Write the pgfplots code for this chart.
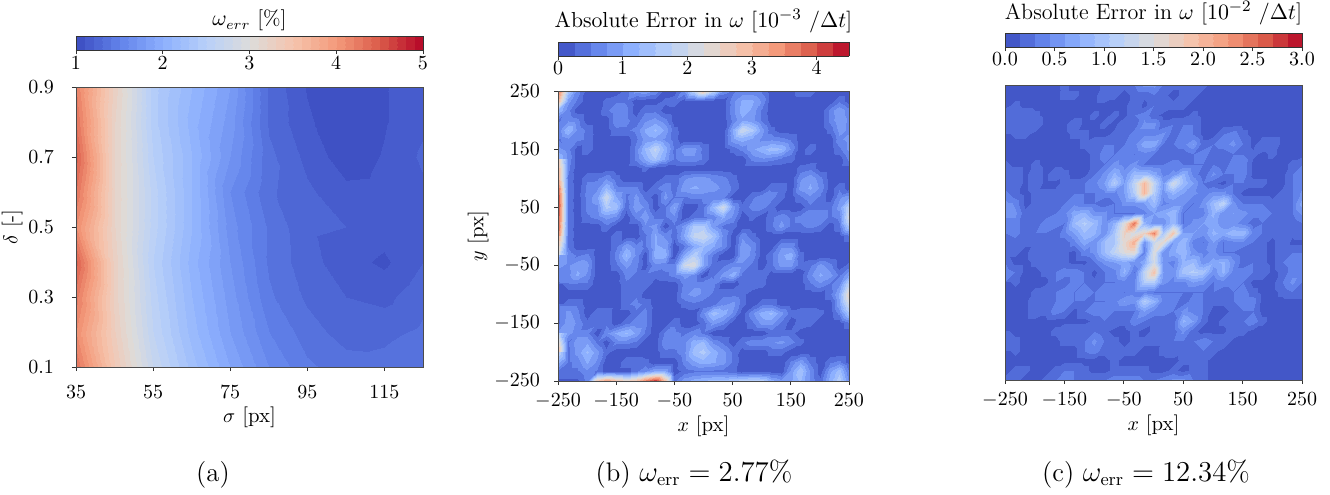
\documentclass[border=0pt]{standalone}
\usepackage{pgfplots}
\pgfplotsset{compat=1.18}
\pgfplotsset{
  colormap={coolwarm}{rgb255=(59,76,192) rgb255=(98,130,234) rgb255=(141,176,254) rgb255=(184,208,249) rgb255=(221,220,219) rgb255=(245,196,173) rgb255=(244,154,123) rgb255=(218,90,73) rgb255=(180,4,38)},
  colormap={cwa}{colors of colormap=(12.5,37.5,...,987.5 of coolwarm)},
  colormap={cwb}{colors of colormap=(27.8,83.3,...,972.2 of coolwarm)},
  colormap={cwc}{colors of colormap=(25,75,...,975 of coolwarm)},
  every axis/.append style={
    scale only axis, anchor=south west,
    tick align=outside, major tick length=2pt, axis line style={black!70,line width=0.4pt},
    tick style={black!80,line width=0.35pt}, xtick pos=bottom, ytick pos=left,
    axis on top, colormap access=piecewise constant,
    tick label style={font=\fontsize{10.3}{12}\selectfont},
    label style={font=\fontsize{10.4}{12}\selectfont},
    xticklabel style={yshift=-1pt}, yticklabel style={xshift=-3.5pt},
    xlabel shift=-3pt,
  },
  cb/.style n args={3}{
    colorbar horizontal,
    colorbar style={
      at={(0,#1)}, anchor=south west, height=7pt,
      xtick pos=bottom, xticklabel pos=lower, major tick length=2pt,
      axis line style={black!80,line width=0.4pt},
      title style={font=\fontsize{#2}{13}\selectfont,yshift=#3},
      xticklabel style={yshift=3.5pt}, xtick align=outside,
    },
  },
}
\begin{document}
\begin{tikzpicture}
\path[use as bounding box] (0,0) rectangle (665pt,247pt);
\begin{axis}[
  name=a, at={(38pt,63.5pt)}, width=173.5pt, height=140pt,
  xmin=35, xmax=125, ymin=0.1, ymax=0.9,
  xtick={35,55,75,95,115}, ytick={0.1,0.3,0.5,0.7,0.9},
  xticklabel style={yshift=-3pt},
  yticklabel style={xshift=-2pt,/pgf/number format/fixed,/pgf/number format/fixed zerofill,/pgf/number format/precision=1},
  xlabel={$\sigma$ [px]}, ylabel={$\delta$ [-]}, ylabel shift=-4pt,
  colormap name=cwa, point meta min=1, point meta max=5,
  cb={1.132}{10.5}{-7pt},
  colorbar style={width=173.5pt, xtick={1,2,3,4,5}, title={$\omega_{err}$ [\%]}},
]
\addplot[surf,shader=interp,mesh/cols=10,mesh/ordering=x varies,point meta=\thisrowno{0}]
 table[header=false,row sep=\\,x expr={35+10*mod(\coordindex,10)},y expr={0.1+0.1*floor(\coordindex/10)}]{
 4.3\\ 3.4\\ 2.7\\ 2.25\\ 1.9\\ 1.6\\ 1.42\\ 1.35\\ 1.34\\ 1.4\\
 4.1\\ 3.3\\ 2.6\\ 2.15\\ 1.8\\ 1.5\\ 1.35\\ 1.25\\ 1.27\\ 1.32\\
 4.25\\ 3.25\\ 2.55\\ 2.1\\ 1.75\\ 1.42\\ 1.28\\ 1.2\\ 1.17\\ 1.27\\
 4.45\\ 3.25\\ 2.5\\ 2.05\\ 1.7\\ 1.38\\ 1.24\\ 1.14\\ 1.08\\ 1.2\\
 4.1\\ 3.2\\ 2.55\\ 2.1\\ 1.65\\ 1.38\\ 1.22\\ 1.2\\ 1.15\\ 1.12\\
 4.3\\ 3.2\\ 2.55\\ 2.1\\ 1.6\\ 1.32\\ 1.22\\ 1.13\\ 1.14\\ 1.18\\
 4.45\\ 3.2\\ 2.5\\ 2.1\\ 1.7\\ 1.33\\ 1.17\\ 1.04\\ 1.11\\ 1.22\\
 4.3\\ 3.2\\ 2.45\\ 2.05\\ 1.75\\ 1.28\\ 1.12\\ 1.01\\ 1.09\\ 1.18\\
 4.2\\ 3.25\\ 2.45\\ 2.1\\ 1.8\\ 1.28\\ 1.09\\ 1.01\\ 1.09\\ 1.17\\
};
\end{axis}
\begin{axis}[
  name=b, at={(279pt,56.5pt)}, width=145.5pt, height=145pt,
  xmin=-250, xmax=250, ymin=-250, ymax=250,
  xtick={-250,-150,-50,50,150,250}, ytick={-250,-150,-50,50,150,250},
  xlabel={$x$ [px]}, ylabel={$y$ [px]}, ylabel shift=-4pt,
  colormap name=cwb, point meta min=0, point meta max=4.5,
  cb={1.1207}{10.85}{-5pt},
  colorbar style={width=145.5pt, xtick={0,1,2,3,4}, title={Absolute Error in $\omega$ [$10^{-3}$ $/\Delta t$]}},
]
\addplot[surf,shader=interp,mesh/cols=31,mesh/ordering=x varies,point meta=\thisrowno{0}]
 table[header=false,row sep=\\,x expr={-250+16.6667*mod(\coordindex,31)},y expr={250-16.6667*floor(\coordindex/31)}]{
 3.8\\ 1.5\\ .7\\ .1\\ .1\\ .1\\ .1\\ .35\\ .85\\ .95\\ .7\\ .1\\ .1\\ .7\\ 1.85\\ 2.8\\ 1.85\\ .7\\ .45\\ .6\\ .6\\ .45\\ .1\\ .1\\ .1\\ .45\\ .45\\ .1\\ .1\\ .1\\ .1\\
 3.0\\ .85\\ .45\\ .1\\ .1\\ .35\\ .45\\ .45\\ .1\\ .1\\ .1\\ .35\\ .45\\ .1\\ .1\\ .1\\ .1\\ .1\\ .7\\ 1.05\\ 1.05\\ .7\\ .1\\ .1\\ .1\\ .1\\ .1\\ .1\\ .1\\ .45\\ .1\\
 1.3\\ .6\\ .1\\ .1\\ .1\\ .45\\ .7\\ .6\\ .1\\ .45\\ .45\\ .1\\ .1\\ .1\\ .1\\ .1\\ .1\\ .1\\ .7\\ 1.15\\ .95\\ .45\\ .1\\ .1\\ .1\\ .1\\ .1\\ .1\\ .6\\ .95\\ .6\\
 .45\\ .7\\ .6\\ .1\\ .1\\ .1\\ .7\\ .6\\ .35\\ .7\\ .85\\ .6\\ .1\\ .1\\ .1\\ .1\\ .1\\ .1\\ .6\\ .95\\ .85\\ .45\\ .1\\ .1\\ .1\\ .1\\ .1\\ .1\\ .6\\ .95\\ .7\\
 .6\\ 1.3\\ .7\\ .45\\ .1\\ .1\\ .45\\ .45\\ .6\\ 1.05\\ 1.3\\ .95\\ .35\\ .1\\ .1\\ .1\\ .1\\ .1\\ 1.05\\ 2.0\\ 1.6\\ .85\\ .35\\ .1\\ .1\\ .1\\ .1\\ .1\\ .35\\ .85\\ .7\\
 .45\\ .7\\ .6\\ .45\\ .1\\ .1\\ .1\\ .1\\ .45\\ .85\\ .95\\ .7\\ .35\\ .1\\ .1\\ .1\\ .1\\ .1\\ .95\\ 1.15\\ .95\\ .7\\ .7\\ .6\\ .45\\ .1\\ .1\\ .1\\ .1\\ .7\\ .85\\
 .45\\ .6\\ .1\\ .45\\ .1\\ .1\\ .1\\ .1\\ .6\\ 1.3\\ 1.85\\ 1.15\\ .45\\ .85\\ .85\\ .45\\ .1\\ .1\\ .35\\ .6\\ .95\\ 1.15\\ 1.4\\ 1.3\\ .7\\ .1\\ .45\\ .1\\ .1\\ .45\\ .85\\
 1.3\\ .7\\ .1\\ .1\\ .1\\ .1\\ .1\\ .1\\ .6\\ 1.05\\ 1.5\\ .95\\ .45\\ .7\\ .7\\ .45\\ .1\\ .1\\ .1\\ .1\\ .6\\ .7\\ .6\\ .45\\ .35\\ .1\\ .1\\ .1\\ .1\\ .1\\ .6\\
 2.8\\ .6\\ .1\\ .1\\ .1\\ .1\\ .1\\ .1\\ .1\\ .35\\ .1\\ .1\\ .1\\ .1\\ .1\\ .1\\ .1\\ .1\\ .1\\ .1\\ .1\\ .1\\ .1\\ .1\\ .1\\ .35\\ .45\\ .1\\ .1\\ .1\\ .1\\
 3.2\\ .45\\ .1\\ .45\\ .45\\ .7\\ .35\\ .1\\ .1\\ .1\\ .1\\ .35\\ .35\\ .7\\ .85\\ .85\\ .7\\ .6\\ .35\\ .1\\ .1\\ .1\\ .1\\ .1\\ .1\\ .7\\ .95\\ .6\\ .1\\ .1\\ .1\\
 3.7\\ .45\\ .1\\ .6\\ .7\\ 1.3\\ .6\\ .6\\ .6\\ .1\\ .45\\ .7\\ .35\\ .95\\ 1.05\\ .95\\ .85\\ .7\\ .45\\ .1\\ .1\\ .1\\ .45\\ .45\\ .1\\ .85\\ 1.05\\ .7\\ .1\\ .45\\ .1\\
 4.0\\ .45\\ .1\\ .6\\ .95\\ 2.0\\ 1.05\\ .45\\ .85\\ .45\\ .1\\ .85\\ .45\\ .45\\ .6\\ .6\\ .6\\ .6\\ .1\\ .1\\ .45\\ .7\\ .6\\ .35\\ .1\\ .45\\ .7\\ .45\\ .1\\ .7\\ .95\\
 4.3\\ .45\\ .1\\ .6\\ .7\\ 1.6\\ 1.4\\ .35\\ .95\\ .7\\ .1\\ .45\\ 1.05\\ .1\\ .1\\ .45\\ 1.3\\ 2.1\\ .85\\ .35\\ .6\\ .6\\ .35\\ .1\\ .1\\ .1\\ .45\\ .45\\ .45\\ .85\\ 1.9\\
 4.2\\ .45\\ .1\\ .45\\ .6\\ .85\\ .7\\ .1\\ .6\\ .95\\ .45\\ .45\\ .7\\ .1\\ .45\\ .45\\ .6\\ 1.05\\ .7\\ .1\\ .35\\ .1\\ .45\\ .7\\ .45\\ .6\\ .7\\ .7\\ .45\\ .6\\ 2.2\\
 4.0\\ .45\\ .1\\ .1\\ .1\\ .45\\ .1\\ .1\\ .1\\ .7\\ .85\\ .1\\ .45\\ .85\\ 1.6\\ 1.6\\ .85\\ .45\\ .35\\ .1\\ .1\\ .1\\ .45\\ .85\\ .45\\ .45\\ .6\\ .45\\ .1\\ .45\\ 1.6\\
 3.7\\ .45\\ .1\\ .1\\ .1\\ .1\\ .45\\ .1\\ .1\\ .45\\ 1.05\\ .7\\ .35\\ 1.05\\ 1.85\\ 2.0\\ 1.5\\ .7\\ .1\\ .7\\ .35\\ .1\\ .1\\ .1\\ .1\\ .1\\ .1\\ .1\\ .1\\ .1\\ .45\\
 3.2\\ .45\\ .1\\ .1\\ .1\\ .1\\ .45\\ .95\\ .6\\ .45\\ 1.05\\ .95\\ .1\\ .45\\ 1.05\\ 1.3\\ 1.05\\ .7\\ .1\\ .95\\ .7\\ .1\\ .1\\ .7\\ .7\\ .1\\ .1\\ .1\\ .1\\ .1\\ .1\\
 2.2\\ .7\\ .45\\ .6\\ .1\\ .1\\ .6\\ 1.3\\ .7\\ .1\\ 1.15\\ 1.15\\ .1\\ 1.05\\ 1.7\\ 1.05\\ .45\\ .1\\ .1\\ .95\\ .7\\ .1\\ .45\\ .95\\ 1.15\\ .35\\ .1\\ .1\\ .1\\ .1\\ .1\\
 1.05\\ .7\\ .95\\ .85\\ .1\\ .1\\ .45\\ .85\\ .6\\ .1\\ .7\\ .6\\ .6\\ 2.0\\ 2.2\\ 1.05\\ .35\\ .45\\ .7\\ .7\\ .45\\ .1\\ .45\\ .85\\ .85\\ .35\\ .45\\ .85\\ .6\\ .1\\ .35\\
 .6\\ .7\\ 1.05\\ .7\\ .1\\ .1\\ .1\\ .6\\ .45\\ .45\\ .35\\ .45\\ .6\\ .85\\ .7\\ .1\\ .45\\ .85\\ 1.15\\ .45\\ .45\\ .45\\ .1\\ .1\\ .1\\ .1\\ .7\\ 1.05\\ .85\\ .45\\ 1.05\\
 .45\\ .45\\ .45\\ .45\\ .1\\ .1\\ .1\\ .45\\ .45\\ .45\\ .1\\ .1\\ .1\\ .6\\ .7\\ .7\\ .6\\ .1\\ .1\\ .35\\ .45\\ .35\\ .1\\ .1\\ .1\\ .1\\ .45\\ .7\\ .45\\ .7\\ 1.9\\
 .1\\ .1\\ .1\\ .1\\ .1\\ .1\\ .1\\ .45\\ .45\\ .1\\ .1\\ .1\\ .1\\ .7\\ .85\\ .7\\ .45\\ .45\\ .45\\ .35\\ .1\\ .1\\ .1\\ .1\\ .1\\ .1\\ .1\\ .1\\ .45\\ 1.05\\ 2.6\\
 .1\\ .45\\ .45\\ .1\\ .1\\ .1\\ .1\\ .45\\ .6\\ .45\\ .1\\ .1\\ .1\\ .35\\ .45\\ .35\\ .45\\ .7\\ .85\\ .35\\ .1\\ .45\\ .45\\ .1\\ .1\\ .1\\ .1\\ .1\\ .1\\ .95\\ 2.1\\
 .45\\ .85\\ .6\\ .1\\ .45\\ .45\\ .1\\ .1\\ .45\\ .6\\ .1\\ .1\\ .1\\ .1\\ .1\\ .7\\ 1.4\\ 1.15\\ .7\\ .1\\ .7\\ 1.15\\ 1.3\\ .85\\ .35\\ .45\\ .45\\ .35\\ .1\\ .6\\ 1.5\\
 .45\\ .95\\ .7\\ .35\\ .45\\ .45\\ .1\\ .45\\ .6\\ .6\\ .1\\ .1\\ .45\\ .1\\ .1\\ .35\\ .85\\ .6\\ .1\\ .1\\ .45\\ .85\\ .85\\ .45\\ .1\\ .45\\ .35\\ .1\\ .1\\ .1\\ .45\\
 .85\\ .85\\ .6\\ .6\\ .1\\ .7\\ 1.05\\ 1.3\\ .95\\ .45\\ .1\\ .6\\ .6\\ .45\\ .7\\ .45\\ .1\\ .1\\ .1\\ .1\\ .1\\ .1\\ .35\\ .35\\ .35\\ .1\\ .1\\ .1\\ .1\\ .1\\ .1\\
 1.85\\ .45\\ .95\\ .95\\ .45\\ .1\\ .6\\ .6\\ .45\\ .1\\ .1\\ .7\\ .6\\ .7\\ 1.15\\ 1.3\\ .7\\ .45\\ .1\\ .45\\ .7\\ .7\\ .7\\ .85\\ .6\\ .35\\ .1\\ .1\\ .1\\ .1\\ .1\\
 3.0\\ .45\\ .85\\ 1.3\\ .85\\ .35\\ .1\\ .1\\ .1\\ .1\\ .1\\ .45\\ .45\\ .7\\ 1.4\\ 1.6\\ 1.15\\ .85\\ .45\\ .1\\ .1\\ .1\\ .35\\ .35\\ .1\\ .1\\ .1\\ .1\\ .1\\ .1\\ .1\\
 1.85\\ .45\\ .6\\ 1.05\\ .7\\ .1\\ .1\\ .45\\ .45\\ .35\\ .1\\ .1\\ .1\\ .6\\ .95\\ 1.15\\ 1.05\\ .85\\ .45\\ .1\\ .1\\ .1\\ .1\\ .1\\ .6\\ .95\\ .45\\ .1\\ .45\\ .6\\ .1\\
 .45\\ .45\\ .45\\ .7\\ .45\\ .1\\ .1\\ .1\\ .45\\ .7\\ 1.05\\ 1.05\\ .1\\ .35\\ .45\\ .45\\ .45\\ .45\\ .35\\ .1\\ .1\\ .1\\ .1\\ .1\\ .85\\ 1.5\\ .7\\ .1\\ .95\\ 1.4\\ .45\\
 .2\\ .2\\ .2\\ .6\\ 3.0\\ 3.5\\ 3.0\\ 2.6\\ 3.0\\ 3.8\\ 4.4\\ 3.0\\ .45\\ .95\\ 1.15\\ 1.3\\ 1.4\\ 1.4\\ 1.6\\ 1.7\\ 1.85\\ 1.7\\ 1.15\\ .85\\ .95\\ 1.3\\ .7\\ .35\\ 1.15\\ 1.7\\ .7\\
};
\end{axis}
\begin{axis}[
  name=c, at={(502.5pt,57pt)}, width=148.5pt, height=147.5pt,
  xmin=-250, xmax=250, ymin=-250, ymax=250,
  xtick={-250,-150,-50,50,150,250}, ytick=\empty,
  xlabel={$x$ [px]},
  colormap name=cwc, point meta min=0, point meta max=3,
  cb={1.1288}{11.07}{-5.5pt},
  colorbar style={width=148.5pt, xtick={0,0.5,1,1.5,2,2.5,3}, title={Absolute Error in $\omega$ [$10^{-2}$ $/\Delta t$]},
    xticklabel style={/pgf/number format/fixed,/pgf/number format/fixed zerofill,/pgf/number format/precision=1}},
]
\addplot[surf,shader=interp,mesh/cols=31,mesh/ordering=x varies,point meta=\thisrowno{0}]
 table[header=false,row sep=\\,x expr={-250+16.6667*mod(\coordindex,31)},y expr={250-16.6667*floor(\coordindex/31)}]{
 .1\\ .1\\ .1\\ .1\\ .1\\ .1\\ .2\\ .1\\ .1\\ .1\\ .2\\ .2\\ .2\\ .3\\ .5\\ .5\\ .3\\ .2\\ .2\\ .3\\ .2\\ .1\\ .1\\ .1\\ .1\\ .1\\ .1\\ .1\\ .1\\ .1\\ .1\\
 .1\\ .1\\ .1\\ .1\\ .1\\ .1\\ .2\\ .2\\ .1\\ .1\\ .3\\ .2\\ .1\\ .2\\ .2\\ .3\\ .2\\ .1\\ .2\\ .2\\ .1\\ .1\\ .1\\ .1\\ .1\\ .1\\ .1\\ .1\\ .1\\ .1\\ .1\\
 .1\\ .2\\ .1\\ .1\\ .1\\ .1\\ .1\\ .1\\ .1\\ .1\\ .1\\ .1\\ .1\\ .3\\ .1\\ .3\\ .3\\ .2\\ .2\\ .1\\ .1\\ .1\\ .1\\ .1\\ .1\\ .1\\ .1\\ .1\\ .1\\ .1\\ .1\\
 .3\\ .3\\ .3\\ .2\\ .1\\ .1\\ .1\\ .1\\ .1\\ .2\\ .1\\ .2\\ .1\\ .3\\ .4\\ .2\\ .1\\ .1\\ .1\\ .2\\ .1\\ .1\\ .1\\ .1\\ .1\\ .1\\ .1\\ .1\\ .1\\ .1\\ .1\\
 .3\\ .3\\ .3\\ .3\\ .1\\ .1\\ .1\\ .3\\ .1\\ .1\\ .2\\ .1\\ .3\\ .2\\ .5\\ .5\\ .2\\ .3\\ .3\\ .3\\ .1\\ .1\\ .1\\ .1\\ .1\\ .1\\ .1\\ .1\\ .1\\ .1\\ .1\\
 .2\\ .2\\ .2\\ .1\\ .1\\ .1\\ .1\\ .2\\ .2\\ .1\\ .1\\ .2\\ .2\\ .4\\ .4\\ .4\\ .5\\ .2\\ .4\\ .3\\ .1\\ .1\\ .3\\ .4\\ .2\\ .1\\ .1\\ .1\\ .1\\ .1\\ .1\\
 .1\\ .1\\ .1\\ .1\\ .1\\ .1\\ .1\\ .1\\ .2\\ .3\\ .3\\ .3\\ .3\\ .4\\ .7\\ .7\\ .3\\ .3\\ .4\\ .6\\ .2\\ .3\\ .4\\ .5\\ .3\\ .1\\ .3\\ .3\\ .1\\ .1\\ .1\\
 .1\\ .1\\ .1\\ .1\\ .1\\ .1\\ .1\\ .1\\ .1\\ .2\\ .4\\ .3\\ .4\\ .3\\ .4\\ .3\\ .2\\ .2\\ .2\\ .3\\ .4\\ .2\\ .2\\ .3\\ .3\\ .2\\ .1\\ .2\\ .1\\ .1\\ .1\\
 .1\\ .1\\ .1\\ .2\\ .1\\ .1\\ .1\\ .1\\ .1\\ .2\\ .3\\ .5\\ .4\\ .5\\ .3\\ .3\\ .3\\ .4\\ .3\\ .3\\ .3\\ .3\\ .2\\ .4\\ .4\\ .1\\ .1\\ .1\\ .1\\ .2\\ .3\\
 .3\\ .3\\ .1\\ .3\\ .1\\ .3\\ .2\\ .1\\ .1\\ .3\\ .5\\ .8\\ .5\\ .9\\ .9\\ .7\\ .4\\ .5\\ .8\\ .4\\ .2\\ .5\\ .3\\ .3\\ .4\\ .1\\ .1\\ .1\\ .1\\ .3\\ .4\\
 .3\\ .3\\ .1\\ .3\\ .1\\ .1\\ .2\\ .2\\ .3\\ .4\\ .6\\ 1.1\\ .6\\ 1.2\\ 2.0\\ 1.2\\ .6\\ 1.4\\ .9\\ .6\\ .3\\ .2\\ .1\\ .3\\ .3\\ .2\\ .2\\ .1\\ .1\\ .3\\ .4\\
 .2\\ .2\\ .1\\ .2\\ .2\\ .2\\ .2\\ .3\\ .3\\ .3\\ .4\\ .4\\ .6\\ 1.1\\ 2.0\\ 1.1\\ .5\\ .8\\ .6\\ .5\\ .4\\ .5\\ .5\\ .3\\ .1\\ .1\\ .1\\ .1\\ .2\\ .3\\ .5\\
 .5\\ .4\\ .1\\ .2\\ .3\\ .3\\ .3\\ .4\\ .3\\ .3\\ .2\\ .3\\ .5\\ .5\\ .6\\ .9\\ .4\\ .5\\ .5\\ .3\\ .5\\ .9\\ 1.2\\ .5\\ .3\\ .3\\ .3\\ .2\\ .2\\ .3\\ .7\\
 .6\\ .5\\ .2\\ .2\\ .2\\ .3\\ .4\\ .7\\ .8\\ .5\\ .5\\ .3\\ .3\\ .3\\ .4\\ .6\\ .7\\ .9\\ .3\\ .4\\ .4\\ .8\\ .5\\ .6\\ .5\\ .4\\ .4\\ .3\\ .3\\ .3\\ .5\\
 .4\\ .4\\ .2\\ .2\\ .4\\ .4\\ .3\\ .9\\ 1.1\\ .9\\ .5\\ .8\\ 1.5\\ 2.5\\ .8\\ .5\\ .5\\ .9\\ .3\\ .5\\ .6\\ .7\\ .5\\ .5\\ .4\\ .2\\ .3\\ .3\\ .2\\ .2\\ .3\\
 .4\\ .4\\ .2\\ .3\\ .3\\ .2\\ .4\\ .6\\ .9\\ .8\\ .5\\ 1.0\\ 1.7\\ 1.4\\ 1.7\\ 2.4\\ 1.0\\ 1.9\\ .6\\ .6\\ .5\\ .8\\ .7\\ .9\\ .9\\ .4\\ .3\\ .2\\ .3\\ .2\\ .3\\
 .3\\ .2\\ .2\\ .2\\ .2\\ .2\\ .2\\ .4\\ .7\\ .5\\ .9\\ 1.0\\ 1.6\\ 2.1\\ .5\\ 1.3\\ 1.6\\ .6\\ .9\\ .4\\ .3\\ .6\\ .3\\ .4\\ .4\\ .3\\ .2\\ .1\\ .3\\ .1\\ .1\\
 .3\\ .2\\ .1\\ .3\\ .3\\ .3\\ .2\\ .1\\ .4\\ .5\\ .9\\ 1.2\\ 1.5\\ 1.6\\ .4\\ 1.5\\ .5\\ .7\\ .9\\ .5\\ .4\\ .5\\ .3\\ .3\\ .2\\ .3\\ .2\\ .1\\ .3\\ .3\\ .3\\
 .2\\ .1\\ .1\\ .2\\ .3\\ .3\\ .2\\ .1\\ .1\\ .3\\ .5\\ .6\\ .7\\ .5\\ .7\\ 1.4\\ .5\\ .4\\ .8\\ .9\\ .5\\ .7\\ .8\\ .5\\ .2\\ .3\\ .2\\ .1\\ .3\\ .4\\ .3\\
 .4\\ .3\\ .1\\ .1\\ .2\\ .3\\ .4\\ .4\\ .3\\ .1\\ .3\\ .4\\ .8\\ .3\\ 1.2\\ 1.9\\ .6\\ .5\\ 1.0\\ 1.1\\ 1.0\\ .5\\ .8\\ .4\\ .4\\ .3\\ .3\\ .1\\ .2\\ .4\\ .4\\
 .3\\ .2\\ .1\\ .1\\ .1\\ .3\\ .2\\ .4\\ .3\\ .2\\ .3\\ .3\\ .4\\ .4\\ 1.1\\ 1.1\\ .5\\ .4\\ .4\\ .6\\ .5\\ .3\\ .4\\ .4\\ .3\\ .1\\ .1\\ .1\\ .3\\ .5\\ .3\\
 .1\\ .1\\ .1\\ .2\\ .3\\ .3\\ .4\\ .3\\ .4\\ .3\\ .4\\ .4\\ .3\\ .4\\ .4\\ .3\\ .3\\ .3\\ .3\\ .3\\ .3\\ .3\\ .2\\ .3\\ .4\\ .2\\ .1\\ .1\\ .2\\ .3\\ .3\\
 .1\\ .1\\ .1\\ .3\\ .2\\ .3\\ .4\\ .3\\ .3\\ .3\\ .3\\ .4\\ .6\\ .5\\ 1.1\\ .8\\ .4\\ .4\\ .2\\ .4\\ .3\\ .2\\ .2\\ .3\\ .4\\ .4\\ .1\\ .1\\ .1\\ .1\\ .1\\
 .1\\ .1\\ .1\\ .3\\ .2\\ .4\\ .3\\ .1\\ .3\\ .4\\ .4\\ .3\\ .3\\ .3\\ .6\\ .4\\ .4\\ .3\\ .5\\ .4\\ .3\\ .1\\ .1\\ .2\\ .3\\ .3\\ .1\\ .1\\ .1\\ .1\\ .1\\
 .1\\ .1\\ .1\\ .1\\ .1\\ .1\\ .1\\ .1\\ .1\\ .2\\ .3\\ .3\\ .2\\ .4\\ .3\\ .2\\ .2\\ .2\\ .8\\ .6\\ .2\\ .1\\ .2\\ .3\\ .3\\ .4\\ .2\\ .1\\ .1\\ .1\\ .1\\
 .1\\ .1\\ .1\\ .1\\ .1\\ .2\\ .3\\ .3\\ .3\\ .3\\ .2\\ .1\\ .1\\ .2\\ .1\\ .2\\ .3\\ .2\\ .5\\ .2\\ .1\\ .1\\ .1\\ .3\\ .2\\ .1\\ .1\\ .1\\ .1\\ .1\\ .1\\
 .2\\ .2\\ .1\\ .1\\ .1\\ .1\\ .2\\ .2\\ .3\\ .5\\ .3\\ .2\\ .1\\ .2\\ .2\\ .2\\ .2\\ .3\\ .3\\ .3\\ .4\\ .3\\ .3\\ .1\\ .1\\ .1\\ .1\\ .1\\ .1\\ .1\\ .1\\
 .3\\ .2\\ .1\\ .1\\ .1\\ .1\\ .1\\ .1\\ .3\\ .4\\ .2\\ .3\\ .2\\ .2\\ .1\\ .1\\ .2\\ .3\\ .2\\ .2\\ .3\\ .2\\ .1\\ .1\\ .1\\ .1\\ .1\\ .1\\ .1\\ .1\\ .1\\
 .1\\ .1\\ .1\\ .1\\ .1\\ .1\\ .1\\ .1\\ .1\\ .1\\ .1\\ .2\\ .1\\ .1\\ .1\\ .1\\ .1\\ .1\\ .2\\ .2\\ .2\\ .1\\ .1\\ .1\\ .1\\ .1\\ .1\\ .1\\ .1\\ .1\\ .1\\
 .1\\ .2\\ .2\\ .1\\ .1\\ .2\\ .3\\ .3\\ .2\\ .1\\ .1\\ .2\\ .2\\ .2\\ .2\\ .1\\ .1\\ .2\\ .1\\ .2\\ .2\\ .1\\ .1\\ .1\\ .1\\ .1\\ .1\\ .1\\ .1\\ .1\\ .1\\
 .2\\ .2\\ .1\\ .1\\ .2\\ .3\\ .4\\ .3\\ .3\\ .3\\ .3\\ .4\\ .4\\ .4\\ .3\\ .3\\ .4\\ .5\\ .5\\ .3\\ .2\\ .1\\ .1\\ .1\\ .1\\ .1\\ .1\\ .1\\ .1\\ .1\\ .1\\
};
\end{axis}
\node[anchor=base,font=\fontsize{13.4}{15}\selectfont] at (106.5pt,6.5pt) {(a)};
\node[anchor=base,font=\fontsize{13.4}{15}\selectfont] at (347pt,6.5pt) {(b) $\omega_{\mathrm{err}}=2.77\%$};
\node[anchor=base,font=\fontsize{13.4}{15}\selectfont] at (573pt,6.5pt) {(c) $\omega_{\mathrm{err}}=12.34\%$};
\end{tikzpicture}
\end{document}
